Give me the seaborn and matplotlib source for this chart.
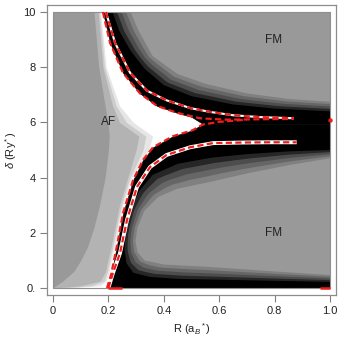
import numpy as np
import matplotlib
matplotlib.use("Agg")
import matplotlib.pyplot as plt
from matplotlib.patches import Rectangle
import seaborn as sns

# ---- data (R in a_B*, delta in Ry*) ----
# AF side: left edge of each lighter band, R as a function of delta
af_delta = [0, 0.08, 0.25, 0.6, 1.0, 1.5, 2.2, 3.0, 4.0, 5.0, 5.5, 6.0, 6.6, 8.0, 10.0]
af_b1 = [0.0, 0.01, 0.035, 0.075, 0.1, 0.125, 0.148, 0.168, 0.188, 0.2, 0.203, 0.198, 0.188, 0.165, 0.148]
af_b2 = [0.0, 0.1, 0.17, 0.19, 0.198, 0.21, 0.224, 0.24, 0.27, 0.3, 0.31, 0.24, 0.215, 0.18, 0.163]
af_b3 = [0.03, 0.14, 0.185, 0.197, 0.205, 0.216, 0.23, 0.247, 0.278, 0.325, 0.335, 0.265, 0.228, 0.186, 0.168]
af_b4 = [0.06, 0.17, 0.192, 0.203, 0.21, 0.222, 0.236, 0.252, 0.284, 0.345, 0.36, 0.29, 0.24, 0.192, 0.172]

# FM side: edges of the black region (upper and lower branch, meeting at the wedge tip)
ku_r = [0.18, 0.206, 0.253, 0.314, 0.375, 0.447, 0.5, 0.54, 1.0]
ku_d = [10, 8.88, 7.79, 7.05, 6.6, 6.35, 6.2, 5.95, 5.95]
kl_r = [0.195, 0.21, 0.23, 0.253, 0.289, 0.325, 0.361, 0.433, 0.505, 0.54, 1.0]
kl_d = [0, 0.5, 1.49, 2.72, 3.91, 4.64, 5.1, 5.5, 5.72, 5.95, 5.95]

# upper FM: where black ends and where plain grey starts
gu_in_r = [0.215, 0.24, 0.28, 0.33, 0.4, 0.5, 0.65, 0.8, 1.0]
gu_in_d = [10, 9.3, 8.6, 7.95, 7.35, 6.95, 6.65, 6.5, 6.4]
gu_out_r = [0.28, 0.31, 0.36, 0.45, 0.55, 0.7, 0.85, 1.0]
gu_out_d = [10, 9.3, 8.4, 7.75, 7.4, 7.05, 6.85, 6.75]

# lower FM: closed contours (from the right edge round the left tip and back)
gl_out_r = [1.0, 0.85, 0.7, 0.57, 0.45, 0.36, 0.31, 0.28, 0.262, 0.258, 0.265, 0.29, 0.35, 0.45, 0.6, 0.8, 1.0]
gl_out_d = [5.0, 4.95, 4.85, 4.72, 4.5, 4.1, 3.5, 2.8, 2.0, 1.4, 0.9, 0.55, 0.4, 0.33, 0.3, 0.26, 0.22]
gl_in_r = [1.0, 0.85, 0.7, 0.57, 0.45, 0.38, 0.33, 0.305, 0.298, 0.305, 0.33, 0.4, 0.57, 0.8, 1.0]
gl_in_d = [4.7, 4.45, 4.15, 3.85, 3.6, 3.3, 2.8, 2.2, 1.7, 1.3, 1.0, 0.85, 0.76, 0.6, 0.47]

# red dashed boundaries
ru1_r = [0.18, 0.206, 0.253, 0.314, 0.375, 0.447, 0.53, 0.62, 0.72, 0.87]
ru1_d = [10, 8.88, 7.79, 7.05, 6.6, 6.35, 6.15, 6.1, 6.11, 6.13]
ru2_r = [0.191, 0.224, 0.278, 0.339, 0.41, 0.495, 0.567, 0.65, 0.75, 0.87]
ru2_d = [10, 8.88, 7.8, 7.15, 6.8, 6.52, 6.38, 6.26, 6.19, 6.15]
rl1_r = [0.195, 0.21, 0.23, 0.253, 0.289, 0.325, 0.361, 0.433, 0.505, 0.54, 0.6, 0.7]
rl1_d = [0, 0.5, 1.49, 2.72, 3.91, 4.64, 5.1, 5.5, 5.72, 5.92, 6.02, 6.1]
rl2_r = [0.2, 0.215, 0.242, 0.267, 0.303, 0.35, 0.41, 0.495, 0.578, 0.68, 0.78, 0.88]
rl2_d = [0, 0.5, 1.27, 2.46, 3.66, 4.38, 4.82, 5.1, 5.25, 5.27, 5.28, 5.28]
edge_bits_r = [[0.2, 0.25], [0.965, 1.0]]
edge_dot = (1.0, 6.1)

x_ticks = [0, 0.2, 0.4, 0.6, 0.8, 1.0]
x_labels = ["0", "0.2", "0.4", "0.6", "0.8", "1.0"]
y_ticks = [0, 2, 4, 6, 8, 10]
y_labels = ["0.", "2", "4", "6", "8", "10"]
phase_labels = [("AF", 0.2, 6.0), ("FM", 0.797, 9.0), ("FM", 0.797, 2.0)]

GREYS = ["#262626", "#4d4d4d", "#666666", "#808080", "#999999"]
RED = "#ee1c1c"


def resample(r, d, n=300):
    r, d = np.asarray(r, float), np.asarray(d, float)
    s = np.concatenate([[0], np.cumsum(np.hypot(np.diff(r) * 10, np.diff(d)))])
    t = np.linspace(0, 1, n)
    return np.interp(t, s / s[-1], r), np.interp(t, s / s[-1], d)


sns.set_style("ticks")
plt.rcParams["font.family"] = ["Liberation Sans", "DejaVu Sans"]
plt.rcParams["mathtext.fontset"] = "custom"
plt.rcParams["mathtext.rm"] = "Liberation Sans"
plt.rcParams["mathtext.it"] = "Liberation Sans:italic"

fig = plt.figure(figsize=(3.4, 3.4), dpi=100)
ax = fig.add_axes([47 / 340, 45 / 340, 289 / 340, 290 / 340])

# base grey and AF shading
ax.fill_between([0, 1], 0, 10, color="#999999", lw=0)
for edge, col in zip([af_b1, af_b2, af_b3, af_b4], ["#b3b3b3", "#cccccc", "#e6e6e6", "white"]):
    ax.fill_betweenx(af_delta, edge, 1.0, color=col, lw=0)

# black FM region right of the wedge (thin black edge hides the seam at the tip)
ax.fill_between(ku_r, ku_d, 10, facecolor="black", edgecolor="black", lw=0.4)
ax.fill_between(kl_r, 0, kl_d, facecolor="black", edgecolor="black", lw=0.4)

# grey steps, upper FM
a = resample(gu_in_r, gu_in_d)
b = resample(gu_out_r, gu_out_d)
for f, col in zip(np.linspace(0, 1, len(GREYS)), GREYS):
    cr = (1 - f) * a[0] + f * b[0]
    cd = (1 - f) * a[1] + f * b[1]
    ax.fill(np.r_[cr, 1.0], np.r_[cd, 10], color=col, lw=0)

# grey steps, lower FM
a = resample(gl_out_r, gl_out_d)
b = resample(gl_in_r, gl_in_d)
for f, col in zip(np.linspace(0, 1, len(GREYS)), GREYS):
    ax.fill((1 - f) * a[0] + f * b[0], (1 - f) * a[1] + f * b[1], color=col, lw=0)

# white slivers and red dashed lines
ax.plot(ru2_r, ru2_d, color="white", lw=1.5, solid_capstyle="butt")
ax.plot(rl2_r, rl2_d, color="white", lw=2.8, solid_capstyle="butt")
for r, d in [(ru1_r, ru1_d), (ru2_r, ru2_d), (rl1_r, rl1_d), (rl2_r, rl2_d)]:
    sns.lineplot(x=r, y=d, sort=False, estimator=None, color=RED, lw=1.6,
                 linestyle=(0, (2.8, 1.5)), ax=ax)
for seg in edge_bits_r:
    ax.plot(seg, [0, 0], color=RED, lw=1.8, solid_capstyle="butt")
ax.plot(*edge_dot, "o", color=RED, ms=2.2)

ax.add_patch(Rectangle((0, 0), 1, 10, fill=False, ec="#8f8f8f", lw=0.8))

for txt, r, d in phase_labels:
    ax.text(r, d, txt, ha="center", va="center", fontsize=8.5, color="#222222")

ax.set_xlim(-0.0217, 1.0217)
ax.set_ylim(-0.254, 10.254)
ax.set_xticks(x_ticks, x_labels)
ax.set_yticks(y_ticks, y_labels)
ax.tick_params(direction="out", length=5, width=0.8, color="#808080",
               labelsize=8, labelcolor="#222222", pad=3)
for sp in ax.spines.values():
    sp.set_color("#8c8c8c")
    sp.set_linewidth(0.9)
ax.set_xlabel(r"R (a$_B$$^*$)", fontsize=8, color="#222222", labelpad=4)
ax.set_ylabel(r"$\delta$ (Ry$^*$)", fontsize=8, color="#222222", labelpad=3)

fig.savefig("out.png", dpi=100)
